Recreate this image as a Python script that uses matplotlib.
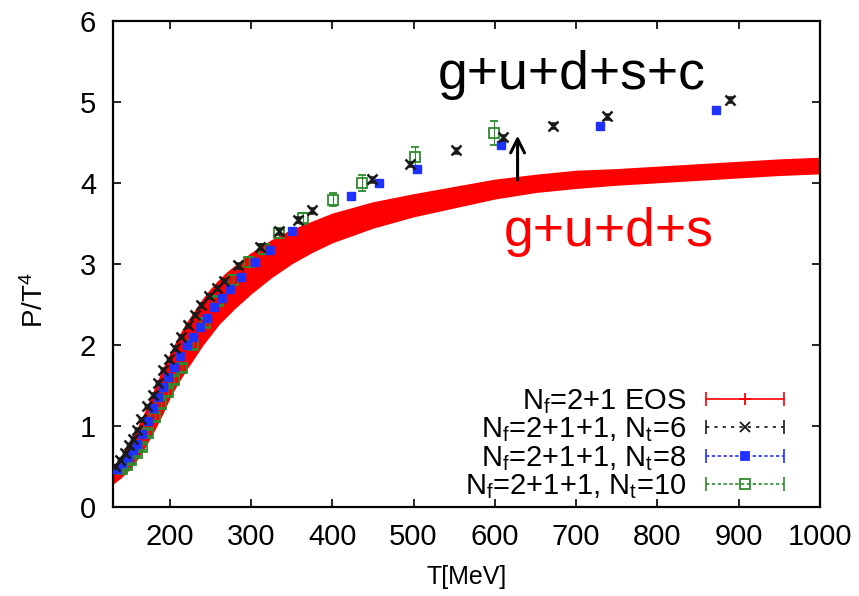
import matplotlib
matplotlib.use("Agg")
import matplotlib.pyplot as plt
from matplotlib.lines import Line2D
from matplotlib.legend_handler import HandlerLine2D, HandlerTuple

plt.rcParams['font.family'] = ['Liberation Sans', 'DejaVu Sans']
plt.rcParams['mathtext.fontset'] = 'custom'
plt.rcParams['mathtext.rm'] = 'Liberation Sans'
plt.rcParams['mathtext.it'] = 'Liberation Sans'
plt.rcParams['mathtext.bf'] = 'Liberation Sans:bold'

# ---------------- data ----------------
# Nf=2+1 EOS band (centre and vertical half-width)
T_eos = [130, 140, 150, 160, 170, 180, 190, 200, 210, 220, 230, 240, 250, 260,
         270, 280, 300, 325, 350, 375, 400, 450, 500, 550, 600, 650, 700, 750,
         800, 850, 900, 950, 1000]
P_eos = [0.38, 0.48, 0.61, 0.77, 0.96, 1.17, 1.39, 1.61, 1.80, 1.97, 2.12, 2.27,
         2.40, 2.52, 2.62, 2.71, 2.88, 3.06, 3.21, 3.33, 3.44, 3.60, 3.72, 3.82,
         3.92, 3.99, 4.04, 4.07, 4.10, 4.13, 4.16, 4.19, 4.21]
dP_eos = [0.09, 0.11, 0.14, 0.17, 0.20, 0.23, 0.25, 0.25, 0.26, 0.27, 0.27, 0.27,
          0.27, 0.26, 0.26, 0.25, 0.24, 0.22, 0.20, 0.18, 0.17, 0.15, 0.13, 0.12,
          0.11, 0.10, 0.10, 0.09, 0.09, 0.09, 0.09, 0.09, 0.09]

# Nf=2+1+1, Nt=6
T6 = [133, 139, 145, 150, 155, 160, 165, 172, 179, 186, 192, 199, 207, 214, 223,
      231, 239, 248, 258, 267, 284, 311, 335, 358, 375, 449, 496, 552, 610, 671,
      738, 889]
P6 = [0.50, 0.58, 0.66, 0.76, 0.84, 0.95, 1.08, 1.24, 1.38, 1.53, 1.69, 1.82,
      1.96, 2.10, 2.24, 2.37, 2.49, 2.60, 2.70, 2.79, 2.98, 3.21, 3.40, 3.54,
      3.66, 4.04, 4.23, 4.40, 4.56, 4.70, 4.82, 5.02]
E6 = [0.02] * 20 + [0.03] * 12

# Nf=2+1+1, Nt=8
T8 = [135, 142, 149, 155, 160, 166, 173, 180, 186, 192, 198, 205, 213, 221, 229,
      237, 246, 255, 264, 274, 288, 305, 323, 350, 423, 458, 504, 608, 729, 872]
P8 = [0.47, 0.54, 0.61, 0.70, 0.78, 0.90, 1.06, 1.22, 1.36, 1.48, 1.60, 1.73,
      1.86, 1.99, 2.10, 2.22, 2.33, 2.46, 2.57, 2.69, 2.84, 3.02, 3.17, 3.40,
      3.84, 3.99, 4.17, 4.46, 4.70, 4.89]
E8 = [0.02] * 24 + [0.03] * 6

# Nf=2+1+1, Nt=10
T10 = [141, 147, 153, 160, 166, 174, 182, 190, 198, 206, 215, 229, 244, 260, 278,
       298, 316, 334, 364, 401, 437, 502, 599]
P10 = [0.47, 0.52, 0.58, 0.66, 0.74, 0.91, 1.11, 1.27, 1.42, 1.56, 1.71, 2.00,
       2.27, 2.54, 2.80, 3.02, 3.18, 3.38, 3.56, 3.79, 3.99, 4.32, 4.61]
E10 = [0.04, 0.04, 0.04, 0.04, 0.04, 0.04, 0.05, 0.05, 0.05, 0.05, 0.05, 0.05,
       0.05, 0.05, 0.06, 0.06, 0.06, 0.06, 0.07, 0.08, 0.10, 0.12, 0.15]

x_ticks = [200, 300, 400, 500, 600, 700, 800, 900, 1000]
y_ticks = [0, 1, 2, 3, 4, 5, 6]

labels = [r'N$_{\mathrm{f}}$=2+1 EOS',
          r'N$_{\mathrm{f}}$=2+1+1, N$_{\mathrm{t}}$=6',
          r'N$_{\mathrm{f}}$=2+1+1, N$_{\mathrm{t}}$=8',
          r'N$_{\mathrm{f}}$=2+1+1, N$_{\mathrm{t}}$=10']

# ---------------- figure ----------------
fig = plt.figure(figsize=(8.59, 5.96), dpi=100)
ax = fig.add_axes([0.1312, 0.1498, 0.8234, 0.8158])

lo = [p - d for p, d in zip(P_eos, dP_eos)]
hi = [p + d for p, d in zip(P_eos, dP_eos)]
ax.fill_between(T_eos, lo, hi, color='#ff0000', lw=1.5, edgecolor='#ff0000', zorder=2)

c6, c8, c10 = '#1a1a1a', '#2030ff', '#2e8b2e'
ax.errorbar(T10, P10, yerr=E10, fmt='s', ms=7, mfc='none', mec=c10, mew=1.3,
            ecolor=c10, elinewidth=0.8, capsize=3, capthick=0.8, zorder=3)
ax.errorbar(T8, P8, yerr=E8, fmt='s', ms=5.5, mfc=c8, mec=c8, mew=1,
            ecolor=c8, elinewidth=0.8, capsize=2, zorder=4)
ax.errorbar(T6, P6, yerr=E6, fmt='x', ms=7, mec=c6, mew=1.8,
            ecolor=c6, elinewidth=0.8, capsize=2, zorder=5)

ax.set_xlim(130, 1000)
ax.set_ylim(0, 6)
ax.set_xticks(x_ticks)
ax.set_yticks(y_ticks)
ax.tick_params(direction='in', length=6, width=1.2, top=True, right=True,
               labelsize=21, pad=12)
for s in ax.spines.values():
    s.set_linewidth(1.6)

ax.set_xlabel('T[MeV]', fontsize=18, labelpad=10)
ax.set_ylabel(r'P/T$^4$', fontsize=20)
ax.yaxis.set_label_coords(-0.09, 0.425)

# annotations
ax.annotate('', xy=(628, 4.58), xytext=(628, 4.03),
            arrowprops=dict(arrowstyle='->', lw=2.2, color='black',
                            mutation_scale=25, shrinkA=0, shrinkB=0))
ax.text(695, 5.16, 'g+u+d+s+c', fontsize=38.5, color='black', ha='center', va='baseline')
ax.text(740, 3.22, 'g+u+d+s', fontsize=38.5, color='#ff0000', ha='center', va='baseline')

# legend (gnuplot style: text first, sample with end caps)
def pair(color, ls, marker, ms, mfc):
    caps = Line2D([], [], color=color, ls=ls, lw=1.2, marker='|', ms=10, mew=1.2)
    mid = Line2D([], [], color=color, ls='none', marker=marker, ms=ms, mfc=mfc,
                 mec=color, mew=1.3)
    return caps, mid

h_eos = pair('#ff0000', '-', '+', 8, '#ff0000')
h6 = pair(c6, (0, (2, 3)), 'x', 7, c6)
h8 = pair(c8, (0, (2, 1.5)), 's', 5.5, c8)
h10 = pair(c10, (0, (2, 1.5)), 's', 7, 'none')
handler_map = {h[0]: HandlerLine2D(numpoints=2) for h in (h_eos, h6, h8, h10)}
handler_map[tuple] = HandlerTuple(ndivide=1, pad=0)
leg = ax.legend([h_eos, h6, h8, h10], labels, handler_map=handler_map,
                loc='lower right', bbox_to_anchor=(0.962, 0.012), frameon=False,
                markerfirst=False, fontsize=21, handlelength=3.3, handletextpad=0.35,
                labelspacing=-0.02, borderpad=0, borderaxespad=0, numpoints=1)

fig.savefig('out.png', dpi=100)
